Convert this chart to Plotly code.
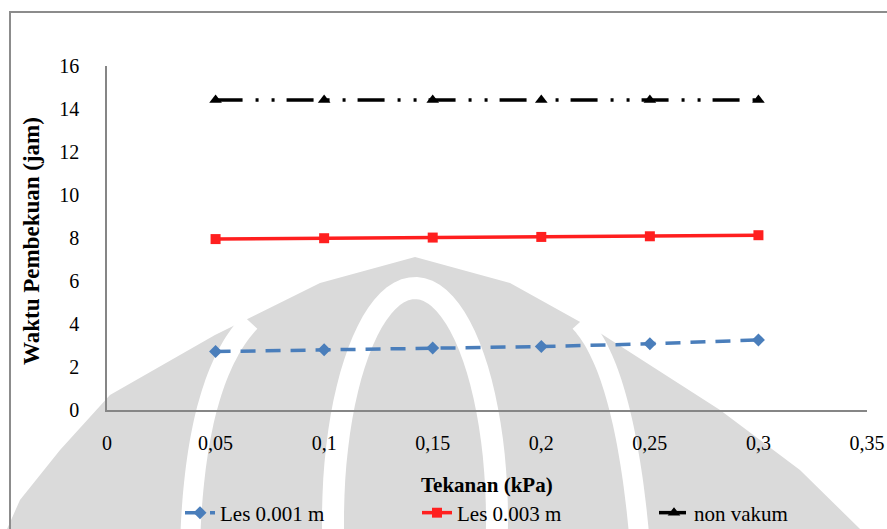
import numpy as np
import plotly.graph_objects as go

# Data
tekanan = [0.05, 0.10, 0.15, 0.20, 0.25, 0.30]
les_0001 = [2.72, 2.80, 2.88, 2.95, 3.08, 3.26]
les_0003 = [7.95, 7.99, 8.02, 8.05, 8.08, 8.13]
non_vakum = [14.42, 14.42, 14.42, 14.42, 14.42, 14.42]

x_tickvals = [0, 0.05, 0.10, 0.15, 0.20, 0.25, 0.30, 0.35]
x_ticktext = ["0", "0,05", "0,1", "0,15", "0,2", "0,25", "0,3", "0,35"]
y_tickvals = [0, 2, 4, 6, 8, 10, 12, 14, 16]

W, H = 887, 529
ML, MR, MT, MB = 107, 20, 66, 119
PW, PH = W - ML - MR, H - MT - MB

SERIF = "Liberation Serif"


def px(x, y):
    """Convert page pixels to paper coordinates."""
    return (x - ML) / PW, (H - MB - y) / PH


def path_from(points, close=False):
    parts = []
    for i, (x, y) in enumerate(points):
        u, v = px(x, y)
        parts.append(("M" if i == 0 else "L") + f"{u:.4f},{v:.4f}")
    return " ".join(parts) + (" Z" if close else "")


def ellipse_pts(cx, cy, rx, ry, n=90):
    t = np.linspace(0, 2 * np.pi, n)
    return list(zip(cx + rx * np.cos(t), cy + ry * np.sin(t)))


def quad_pts(p0, p1, p2, n=40):
    t = np.linspace(0, 1, n)
    xs = (1 - t) ** 2 * p0[0] + 2 * (1 - t) * t * p1[0] + t ** 2 * p2[0]
    ys = (1 - t) ** 2 * p0[1] + 2 * (1 - t) * t * p1[1] + t ** 2 * p2[1]
    return list(zip(xs, ys))


fig = go.Figure()

fig.add_trace(go.Scatter(
    x=tekanan, y=les_0001, name="Les 0.001 m", mode="lines+markers",
    line=dict(color="#4a7ebb", width=3.5, dash="15px,10px"),
    marker=dict(symbol="diamond", size=10, color="#4a7ebb"),
))
fig.add_trace(go.Scatter(
    x=tekanan, y=les_0003, name="Les 0.003 m", mode="lines+markers",
    line=dict(color="#ff1f1f", width=3.5),
    marker=dict(symbol="square", size=10, color="#ff1f1f"),
))
fig.add_trace(go.Scatter(
    x=tekanan, y=non_vakum, name="non vakum", mode="lines+markers",
    line=dict(color="#000000", width=3.5, dash="27px,13px,3px,13px,3px,12px"),
    marker=dict(symbol="triangle-up", size=11, color="#000000"),
))

# Faint background emblem
wm = "#dadada"
dome = [(0, 545), (20, 500), (60, 450), (110, 395), (215, 335), (320, 283),
        (415, 257), (510, 283), (600, 333), (720, 410), (800, 470), (860, 529), (900, 545)]
shapes = [
    dict(type="path", path=path_from(dome, close=True), xref="paper", yref="paper",
         fillcolor=wm, line=dict(width=0), layer="below"),
    dict(type="path", path=path_from(ellipse_pts(415, 520, 82, 232)), xref="paper", yref="paper",
         line=dict(color="white", width=22), layer="below"),
    dict(type="path", path=path_from(quad_pts((250, 322), (195, 380), (190, 545))), xref="paper", yref="paper",
         line=dict(color="white", width=20), layer="below"),
    dict(type="path", path=path_from(quad_pts((580, 322), (625, 370), (640, 545))), xref="paper", yref="paper",
         line=dict(color="white", width=20), layer="below"),
]

# Outer frame
fx0, fy0 = px(10, 12)
fx1, fy1 = px(905, 545)
shapes.append(dict(type="rect", xref="paper", yref="paper", x0=fx0, y0=fy1, x1=fx1, y1=fy0,
                   line=dict(color="#8c8c8c", width=2), fillcolor="rgba(0,0,0,0)", layer="above"))

ytx, yty = px(31, 241)
xtx, xty = px(487, 485)

fig.update_layout(
    width=W, height=H,
    margin=dict(l=ML, r=MR, t=MT, b=MB, autoexpand=False),
    paper_bgcolor="white", plot_bgcolor="rgba(0,0,0,0)",
    font=dict(family=SERIF, size=20, color="#000000"),
    shapes=shapes,
    showlegend=True,
    legend=dict(
        orientation="h", x=px(180, 0)[0], xanchor="left",
        y=px(0, 513)[1], yanchor="middle",
        entrywidth=192, entrywidthmode="pixels",
        bgcolor="rgba(0,0,0,0)", font=dict(family=SERIF, size=21, color="#000000"),
    ),
    annotations=[
        dict(text="<b>Waktu Pembekuan (jam)</b>", x=ytx, y=yty, xref="paper", yref="paper",
             xanchor="center", yanchor="middle",
             textangle=-90, showarrow=False, font=dict(family=SERIF, size=23)),
        dict(text="<b>Tekanan (kPa)</b>", x=xtx, y=xty, xref="paper", yref="paper",
             xanchor="center", yanchor="middle",
             showarrow=False, font=dict(family=SERIF, size=21)),
    ],
)

fig.update_xaxes(
    range=[0, 0.35], tickvals=x_tickvals, ticktext=x_ticktext,
    showgrid=False, zeroline=False, showline=True, linecolor="#868686", linewidth=1.5,
    ticks="", tickfont=dict(family=SERIF, size=20, color="#000000"), ticklabelstandoff=14,
)
fig.update_yaxes(
    range=[0, 16], tickvals=y_tickvals,
    showgrid=False, zeroline=False, showline=True, linecolor="#868686", linewidth=1.5,
    ticks="", tickfont=dict(family=SERIF, size=20, color="#000000"), ticklabelstandoff=22,
)

fig.write_html("out.html")
